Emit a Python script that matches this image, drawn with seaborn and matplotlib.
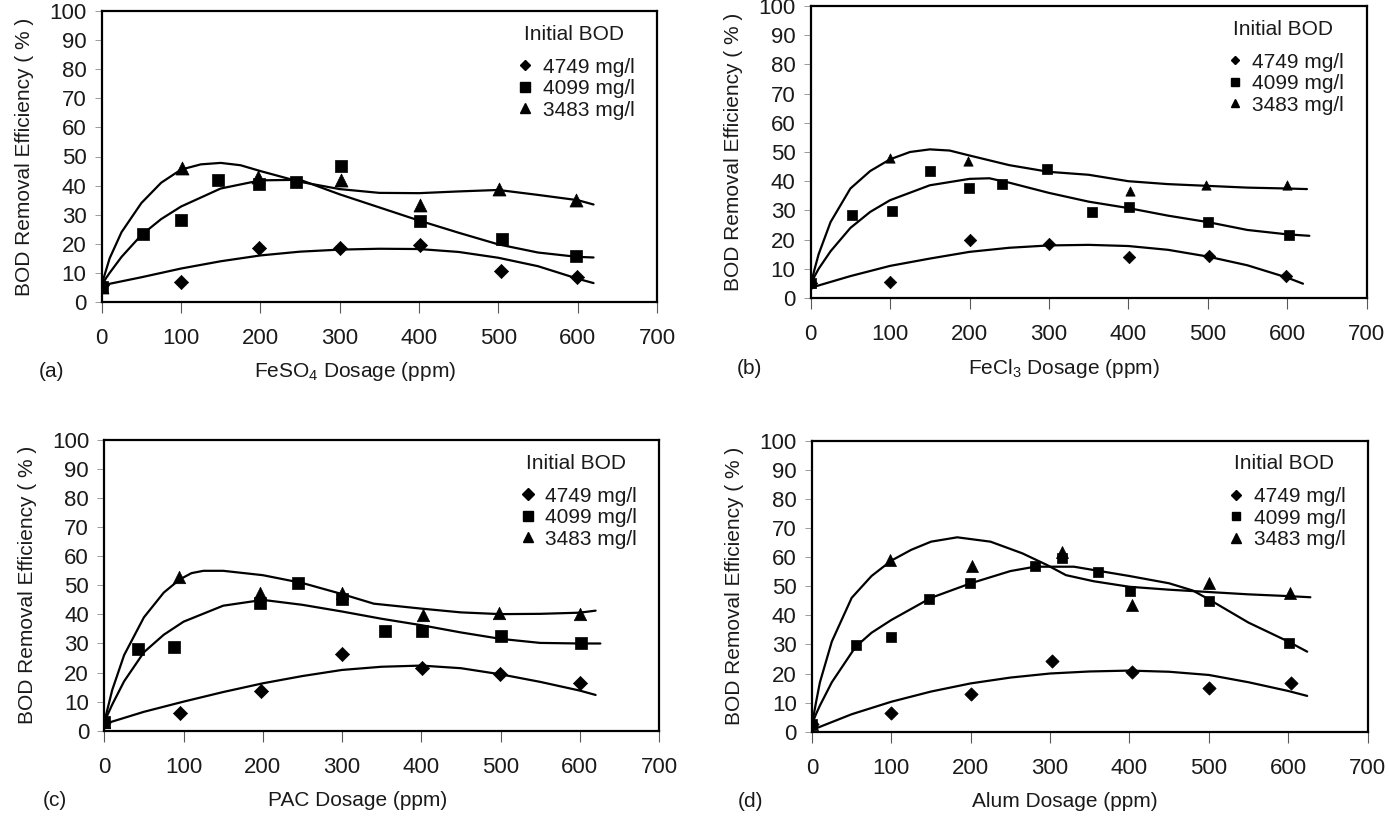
import numpy as np
import pandas as pd
import matplotlib
matplotlib.use("Agg")
import matplotlib.pyplot as plt
from matplotlib.lines import Line2D
import seaborn as sns

# ---------------- data ----------------
series_names = ["4749 mg/l", "4099 mg/l", "3483 mg/l"]
x_ticks = [0, 100, 200, 300, 400, 500, 600, 700]
y_ticks = [0, 10, 20, 30, 40, 50, 60, 70, 80, 90, 100]
panel_tags = ["(a)", "(b)", "(c)", "(d)"]
x_titles = ["FeSO$_4$ Dosage (ppm)", "FeCl$_3$ Dosage (ppm)", "PAC Dosage (ppm)", "Alum Dosage (ppm)"]

# (a) FeSO4 measured points
a_4749_x = [0, 100, 198, 300, 401, 503, 599]
a_4749_y = [5.7, 6.9, 18.7, 18.7, 19.5, 10.7, 8.6]
a_4099_x = [0, 52, 100, 147, 198, 245, 302, 401, 504, 598]
a_4099_y = [5.2, 23.3, 28.1, 41.9, 40.4, 41.3, 46.8, 27.8, 21.8, 15.7]
a_3483_x = [0, 101, 197, 302, 401, 501, 598]
a_3483_y = [5.2, 45.9, 43.0, 41.9, 33.3, 39.0, 35.0]
# (a) trend curves
a_c4749_x = [0, 50, 100, 150, 200, 250, 300, 350, 400, 450, 500, 550, 600, 620]
a_c4749_y = [5.7, 8.5, 11.5, 14.0, 16.0, 17.3, 18.0, 18.3, 18.2, 17.2, 15.2, 12.3, 8.0, 6.5]
a_c4099_x = [0, 5, 10, 25, 50, 75, 100, 150, 200, 250, 300, 350, 400, 450, 500, 550, 600, 620]
a_c4099_y = [5.5, 8.0, 10.0, 15.5, 23.0, 28.5, 32.8, 39.0, 41.8, 42.0, 37.0, 32.5, 28.0, 23.8, 19.8, 17.0, 15.5, 15.3]
a_c3483_x = [0, 5, 10, 25, 50, 75, 100, 125, 150, 175, 200, 250, 300, 350, 400, 450, 500, 550, 600, 620]
a_c3483_y = [6.0, 10.5, 15.0, 24.0, 34.0, 41.0, 45.5, 47.3, 47.8, 47.0, 45.0, 41.3, 38.8, 37.5, 37.4, 38.0, 38.5, 36.8, 35.0, 33.5]

# (b) FeCl3 measured points
b_4749_x = [0, 100, 201, 300, 401, 502, 599]
b_4749_y = [5.1, 5.5, 19.8, 18.6, 14.0, 14.3, 7.4]
b_4099_x = [0, 52, 103, 150, 199, 241, 298, 354, 401, 500, 602]
b_4099_y = [5.1, 28.3, 29.8, 43.5, 37.8, 39.0, 44.3, 29.5, 31.0, 26.0, 21.5]
b_3483_x = [0, 100, 198, 402, 498, 600]
b_3483_y = [5.1, 48.1, 47.0, 36.7, 38.6, 38.6]
# (b) trend curves
b_c4749_x = [0, 50, 100, 150, 200, 250, 300, 350, 400, 450, 500, 550, 600, 620]
b_c4749_y = [3.5, 7.5, 11.0, 13.5, 15.8, 17.2, 18.0, 18.2, 17.8, 16.5, 14.2, 11.2, 7.0, 4.9]
b_c4099_x = [0, 5, 10, 25, 50, 75, 100, 150, 200, 225, 250, 300, 350, 400, 450, 500, 550, 600, 628]
b_c4099_y = [4.5, 7.5, 10.0, 16.0, 24.0, 29.5, 33.5, 38.6, 40.8, 41.0, 39.5, 36.0, 33.0, 30.8, 28.2, 26.0, 23.3, 21.8, 21.3]
b_c3483_x = [0, 5, 10, 25, 50, 75, 100, 125, 150, 175, 200, 250, 300, 350, 400, 450, 500, 550, 600, 625]
b_c3483_y = [4.5, 10.0, 15.0, 26.0, 37.5, 43.5, 47.5, 50.0, 50.9, 50.5, 48.8, 45.5, 43.2, 42.2, 40.0, 39.0, 38.4, 37.8, 37.5, 37.3]

# (c) PAC measured points
c_4749_x = [0, 95, 198, 300, 401, 499, 600]
c_4749_y = [3.1, 6.0, 13.8, 26.4, 21.4, 19.5, 16.5]
c_4099_x = [0, 43, 88, 196, 244, 300, 354, 401, 500, 602]
c_4099_y = [3.1, 28.1, 28.9, 43.8, 50.7, 45.4, 34.4, 34.4, 32.6, 30.0]
c_3483_x = [0, 94, 196, 300, 402, 498, 600]
c_3483_y = [3.1, 53.0, 47.2, 47.2, 39.8, 40.6, 40.1]
# (c) trend curves
c_c4749_x = [0, 50, 100, 150, 200, 250, 300, 350, 400, 450, 500, 550, 600, 620]
c_c4749_y = [2.3, 6.5, 10.0, 13.3, 16.3, 18.8, 20.9, 22.0, 22.4, 21.5, 19.4, 16.8, 13.8, 12.3]
c_c4099_x = [0, 5, 10, 25, 50, 75, 100, 150, 200, 250, 300, 350, 400, 450, 500, 550, 600, 626]
c_c4099_y = [3.0, 6.0, 9.0, 17.0, 27.0, 33.0, 37.5, 43.0, 45.0, 43.3, 41.0, 38.5, 36.3, 33.8, 31.6, 30.2, 30.0, 30.0]
c_c3483_x = [0, 5, 10, 25, 50, 75, 95, 110, 125, 150, 200, 250, 300, 340, 400, 450, 500, 550, 600, 620]
c_c3483_y = [3.0, 8.5, 14.0, 26.0, 39.0, 47.5, 52.0, 54.2, 55.0, 55.0, 53.5, 50.8, 47.0, 43.7, 42.0, 40.7, 40.1, 40.2, 40.6, 41.3]

# (d) Alum measured points
d_4749_x = [0, 100, 200, 302, 403, 500, 604]
d_4749_y = [2.6, 6.3, 12.9, 24.4, 20.6, 15.1, 16.6]
d_4099_x = [0, 55, 100, 147, 199, 281, 315, 360, 401, 500, 601]
d_4099_y = [2.6, 29.8, 32.6, 45.5, 51.0, 56.9, 59.6, 55.0, 48.3, 44.9, 30.6]
d_3483_x = [0, 98, 201, 315, 403, 500, 602]
d_3483_y = [2.6, 59.0, 56.9, 61.9, 43.5, 51.2, 47.5]
# (d) trend curves
d_c4749_x = [0, 50, 100, 150, 200, 250, 300, 350, 400, 450, 500, 550, 600, 624]
d_c4749_y = [0.6, 6.0, 10.3, 13.8, 16.6, 18.6, 20.0, 20.7, 21.0, 20.6, 19.5, 17.0, 14.0, 12.3]
d_c4099_x = [0, 5, 10, 25, 55, 75, 100, 150, 200, 250, 281, 330, 400, 450, 480, 500, 550, 600, 624]
d_c4099_y = [2.6, 6.0, 9.0, 17.0, 29.2, 34.0, 38.4, 46.0, 51.0, 55.2, 56.7, 56.7, 53.5, 51.0, 48.5, 45.5, 37.5, 31.0, 27.5]
d_c3483_x = [0, 5, 10, 25, 50, 75, 100, 125, 150, 183, 225, 265, 296, 320, 355, 400, 450, 500, 550, 600, 628]
d_c3483_y = [2.5, 10.0, 17.0, 31.0, 46.0, 53.5, 58.8, 62.5, 65.3, 66.8, 65.3, 61.3, 57.3, 53.8, 51.7, 49.8, 48.8, 48.0, 47.2, 46.6, 46.2]

points = [
    [(a_4749_x, a_4749_y), (a_4099_x, a_4099_y), (a_3483_x, a_3483_y)],
    [(b_4749_x, b_4749_y), (b_4099_x, b_4099_y), (b_3483_x, b_3483_y)],
    [(c_4749_x, c_4749_y), (c_4099_x, c_4099_y), (c_3483_x, c_3483_y)],
    [(d_4749_x, d_4749_y), (d_4099_x, d_4099_y), (d_3483_x, d_3483_y)],
]
curves = [
    [(a_c4749_x, a_c4749_y), (a_c4099_x, a_c4099_y), (a_c3483_x, a_c3483_y)],
    [(b_c4749_x, b_c4749_y), (b_c4099_x, b_c4099_y), (b_c3483_x, b_c3483_y)],
    [(c_c4749_x, c_c4749_y), (c_c4099_x, c_c4099_y), (c_c3483_x, c_c3483_y)],
    [(d_c4749_x, d_c4749_y), (d_c4099_x, d_c4099_y), (d_c3483_x, d_c3483_y)],
]

# ---------------- styling ----------------
sns.set_theme(style="white")
plt.rcParams["font.family"] = ["Liberation Sans", "DejaVu Sans"]
plt.rcParams["mathtext.fontset"] = "custom"
plt.rcParams["mathtext.rm"] = "Liberation Sans"
plt.rcParams["mathtext.default"] = "regular"

FS = 15
TFS = 16
TXT = "#1a1a1a"
markers = {"4749 mg/l": "D", "4099 mg/l": "s", "3483 mg/l": "^"}
marker_sizes = [
    {"4749 mg/l": 52, "4099 mg/l": 72, "3483 mg/l": 88},
    {"4749 mg/l": 40, "4099 mg/l": 52, "3483 mg/l": 45},
    {"4749 mg/l": 52, "4099 mg/l": 66, "3483 mg/l": 80},
    {"4749 mg/l": 46, "4099 mg/l": 56, "3483 mg/l": 75},
]
legend_ms = [
    {"4749 mg/l": 5.5, "4099 mg/l": 6.5, "3483 mg/l": 7.5},
    {"4749 mg/l": 4.5, "4099 mg/l": 5.5, "3483 mg/l": 6.0},
    {"4749 mg/l": 5.8, "4099 mg/l": 6.8, "3483 mg/l": 7.5},
    {"4749 mg/l": 4.8, "4099 mg/l": 5.5, "3483 mg/l": 7.0},
]

W, H = 1389, 818
fig = plt.figure(figsize=(W / 100, H / 100), dpi=100)
fig.patch.set_facecolor("white")

rects_px = [
    (101.7, 657.0, 11.0, 302.0),
    (810.7, 1366.5, 6.0, 298.0),
    (104.3, 659.0, 440.0, 730.7),
    (812.0, 1367.5, 440.7, 731.7),
]
tag_x = [-0.09, -0.11, -0.09, -0.11]

for i in range(4):
    l, r, t, b = rects_px[i]
    ax = fig.add_axes([l / W, 1 - b / H, (r - l) / W, (b - t) / H])

    rows = []
    for name, (xs, ys) in zip(series_names, points[i]):
        for xv, yv in zip(xs, ys):
            rows.append({"dose": xv, "eff": yv, "series": name})
    pts = pd.DataFrame(rows)

    crow = []
    for name, (xs, ys) in zip(series_names, curves[i]):
        for xv, yv in zip(xs, ys):
            crow.append({"dose": xv, "eff": yv, "series": name})
    cdf = pd.DataFrame(crow)

    sns.lineplot(data=cdf, x="dose", y="eff", units="series", estimator=None,
                 sort=False, color="black", linewidth=1.6, ax=ax, legend=False)
    for name in series_names:
        sub = pts[pts["series"] == name]
        sns.scatterplot(data=sub, x="dose", y="eff", marker=markers[name],
                        s=marker_sizes[i][name], color="black", edgecolor="black",
                        linewidth=0.5, ax=ax, legend=False, zorder=3)

    ax.set_xlim(0, 700)
    ax.set_ylim(0, 100)
    ax.set_xticks(x_ticks)
    ax.set_yticks(y_ticks)
    ax.set_xticklabels([str(v) for v in x_ticks])
    ax.set_yticklabels([str(v) for v in y_ticks])
    for sp in ax.spines.values():
        sp.set_visible(True)
        sp.set_color("black")
        sp.set_linewidth(1.6)
    ax.tick_params(axis="x", bottom=True, direction="out", length=8, width=0.8,
                   color="0.35", pad=11, labelsize=TFS, labelcolor=TXT)
    ax.tick_params(axis="y", left=True, direction="out", length=5, width=0.6,
                   color="0.55", pad=6, labelsize=TFS, labelcolor=TXT)
    ax.grid(False)

    ax.set_ylabel("BOD Removal Efficiency ( % )", fontsize=FS, color=TXT, va="center")
    ax.yaxis.set_label_coords(-0.139, 0.5)
    ax.set_xlabel(x_titles[i], fontsize=FS, color=TXT, va="center")
    ax.xaxis.set_label_coords(0.456, -0.24)
    ax.text(tag_x[i], -0.24, panel_tags[i], transform=ax.transAxes, ha="center",
            va="center", fontsize=FS, color=TXT)

    ax.text(0.76, 0.92, "Initial BOD", transform=ax.transAxes, ha="left",
            va="center", fontsize=FS, color=TXT)
    handles = [Line2D([], [], linestyle="none", marker=markers[n], color="black",
                      markersize=legend_ms[i][n]) for n in series_names]
    ax.legend(handles, series_names, loc="upper left", bbox_to_anchor=(0.748, 0.84),
              frameon=False, fontsize=FS, handlelength=0.8, handletextpad=0.45,
              labelspacing=0.12, borderpad=0, borderaxespad=0, labelcolor=TXT)

fig.savefig("out.png", dpi=100, facecolor="white")
